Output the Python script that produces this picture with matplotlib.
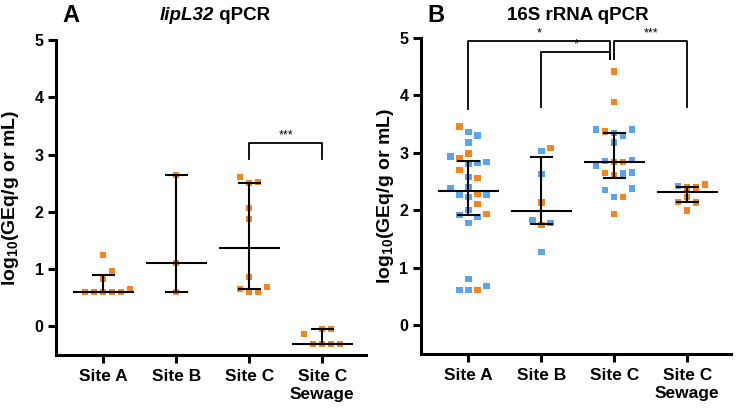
import numpy as np
import matplotlib
matplotlib.use("Agg")
import matplotlib.pyplot as plt

plt.rcParams['font.family'] = 'Liberation Sans'
plt.rcParams['font.weight'] = 'bold'
plt.rcParams['mathtext.fontset'] = 'custom'
plt.rcParams['mathtext.rm'] = 'Liberation Sans:bold'
plt.rcParams['mathtext.bf'] = 'Liberation Sans:bold'
plt.rcParams['mathtext.default'] = 'rm'

sites = ['Site A', 'Site B', 'Site C', 'Site C\nSewage']

# panel A - lipL32 qPCR (all orange)
lip_a = [1.24, 0.96, 0.83, 0.6, 0.6, 0.6, 0.6, 0.6, 0.65]
lip_b = [2.64, 1.11, 0.6]
lip_c = [2.61, 2.5, 2.52, 2.06, 1.88, 0.87, 0.66, 0.6, 0.6, 0.69]
lip_sew = [-0.05, -0.04, -0.14, -0.3, -0.3, -0.3, -0.3]

# panel B - 16S rRNA qPCR (blue / orange samples)
s16_a_blue = [3.36, 3.30, 3.18, 2.94, 2.84, 2.81, 2.82, 2.58, 2.38, 2.40, 2.27,
              2.23, 2.27, 2.01, 1.92, 1.89, 1.78, 0.80, 0.61, 0.61, 0.68]
s16_a_orange = [3.46, 2.99, 2.90, 2.70, 2.56, 2.29, 2.11, 1.94, 0.61]
s16_b_blue = [3.03, 2.63, 1.78, 1.83, 1.27]
s16_b_orange = [3.08, 2.14, 1.75]
s16_c_blue = [3.41, 3.35, 3.41, 3.29, 3.18, 2.88, 2.86, 2.77, 2.64, 2.66, 2.38, 2.23, 2.35]
s16_c_orange = [4.42, 3.89, 3.37, 2.84, 2.84, 2.65, 2.62, 2.23, 1.94]
s16_sew_blue = [2.42]
s16_sew_orange = [2.40, 2.40, 2.45, 2.23, 2.15, 2.14, 2.0]

ORANGE = '#F5861F'
BLUE = '#5AA3EE'


def swarm(ax, x0, vals, d=9.0, dv=9.5):
    # simple beeswarm in pixel space
    vals = np.asarray(vals, float)
    order = np.argsort(vals)
    tr = ax.transData
    px0 = tr.transform((x0, 0))[0]
    placed = []
    xs = np.zeros(len(vals))
    cands = sorted(np.arange(-8, 8.01, 0.5) * d, key=lambda c: (abs(c), -c))
    for i in order:
        py = tr.transform((x0, vals[i]))[1]
        for c in cands:
            ok = all(not (abs(c - qx) < d - 0.01 and abs(py - qy) < dv) for qx, qy in placed)
            if ok:
                break
        placed.append((c, py))
        xs[i] = tr.inverted().transform((px0 + c, py))[0]
    return xs


def summary(ax, x, vals):
    # median with interquartile range (GraphPad-style quartiles)
    q1, med, q3 = np.percentile(vals, [25, 50, 75], method='weibull')
    kw = dict(color='black', lw=1.5, zorder=5, solid_capstyle='butt')
    ax.plot([x, x], [q1, q3], **kw)
    ax.plot([x - 0.16, x + 0.16], [q1, q1], **kw)
    ax.plot([x - 0.16, x + 0.16], [q3, q3], **kw)
    ax.plot([x - 0.42, x + 0.42], [med, med], **kw)


def style(ax):
    ax.set_xlim(-0.65, 3.6)
    ax.set_ylim(-0.5, 5)
    for s in ['top', 'right']:
        ax.spines[s].set_visible(False)
    for s in ['left', 'bottom']:
        ax.spines[s].set_linewidth(2.2)
    ax.set_xticks(range(4))
    ax.set_xticklabels(sites, fontsize=12.5, fontweight='bold', linespacing=1.3)
    ax.set_yticks(range(6))
    ax.tick_params(axis='both', length=6, width=2.2)
    ax.tick_params(axis='y', labelsize=11.5, pad=3)
    ax.tick_params(axis='x', pad=4)
    ax.set_ylabel('log$_{10}$(GEq/g or mL)', fontsize=14, fontweight='bold')


def bracket(ax, x1, x2, y, y1, y2, label, tx=None):
    ax.plot([x1, x1, x2, x2], [y1, y, y, y2], color='black', lw=1.3,
            clip_on=False, zorder=4)
    if tx is None:
        tx = (x1 + x2) / 2
    ax.text(tx, y + 0.02, label, ha='center', va='bottom', fontsize=9,
            fontweight='normal', clip_on=False)


fig = plt.figure(figsize=(7.39, 4.09), dpi=100)
axA = fig.add_axes([56 / 739, 54 / 409, 310 / 739, 315 / 409])
axB = fig.add_axes([421 / 739, 55 / 409, 310 / 739, 316 / 409])
style(axA)
style(axB)
axA.yaxis.set_label_coords(-0.113, 0.5)
axB.yaxis.set_label_coords(-0.08, 0.5)

# panel A
for i, vals in enumerate([lip_a, lip_b, lip_c, lip_sew]):
    xs = swarm(axA, i, vals)
    axA.scatter(xs, vals, marker='s', s=21, color=ORANGE, linewidths=0, zorder=3)
    summary(axA, i, vals)
bracket(axA, 2, 3, 3.21, 2.92, 2.92, '***')

# panel B
groupsB = [(s16_a_blue, s16_a_orange), (s16_b_blue, s16_b_orange),
           (s16_c_blue, s16_c_orange), (s16_sew_blue, s16_sew_orange)]
for i, (bl, orr) in enumerate(groupsB):
    vals = list(bl) + list(orr)
    cols = [BLUE] * len(bl) + [ORANGE] * len(orr)
    xs = swarm(axB, i, vals)
    axB.scatter(xs, vals, marker='s', s=21, color=cols, linewidths=0, zorder=3)
    summary(axB, i, vals)
bracket(axB, 0, 1.945, 4.95, 3.77, 4.63, '*')
bracket(axB, 1, 1.945, 4.76, 3.8, 4.63, '*')
bracket(axB, 2.0, 3, 4.95, 4.63, 3.8, '***')

# panel letters and titles
ty = 1 - 15 / 409
fig.text(71 / 739, ty, 'A', fontsize=17, fontweight='bold', ha='center', va='center')
fig.text(214 / 739, ty, 'lipL32', fontsize=13.5, fontweight='bold',
         fontstyle='italic', ha='right', va='center')
fig.text(214 / 739, ty, ' qPCR', fontsize=13.5, fontweight='bold',
         ha='left', va='center')
fig.text(436 / 739, ty, 'B', fontsize=17, fontweight='bold', ha='center', va='center')
fig.text(578 / 739, ty, '16S rRNA qPCR', fontsize=13.5,
         fontweight='bold', ha='center', va='center')

fig.savefig('out.png', dpi=100)
